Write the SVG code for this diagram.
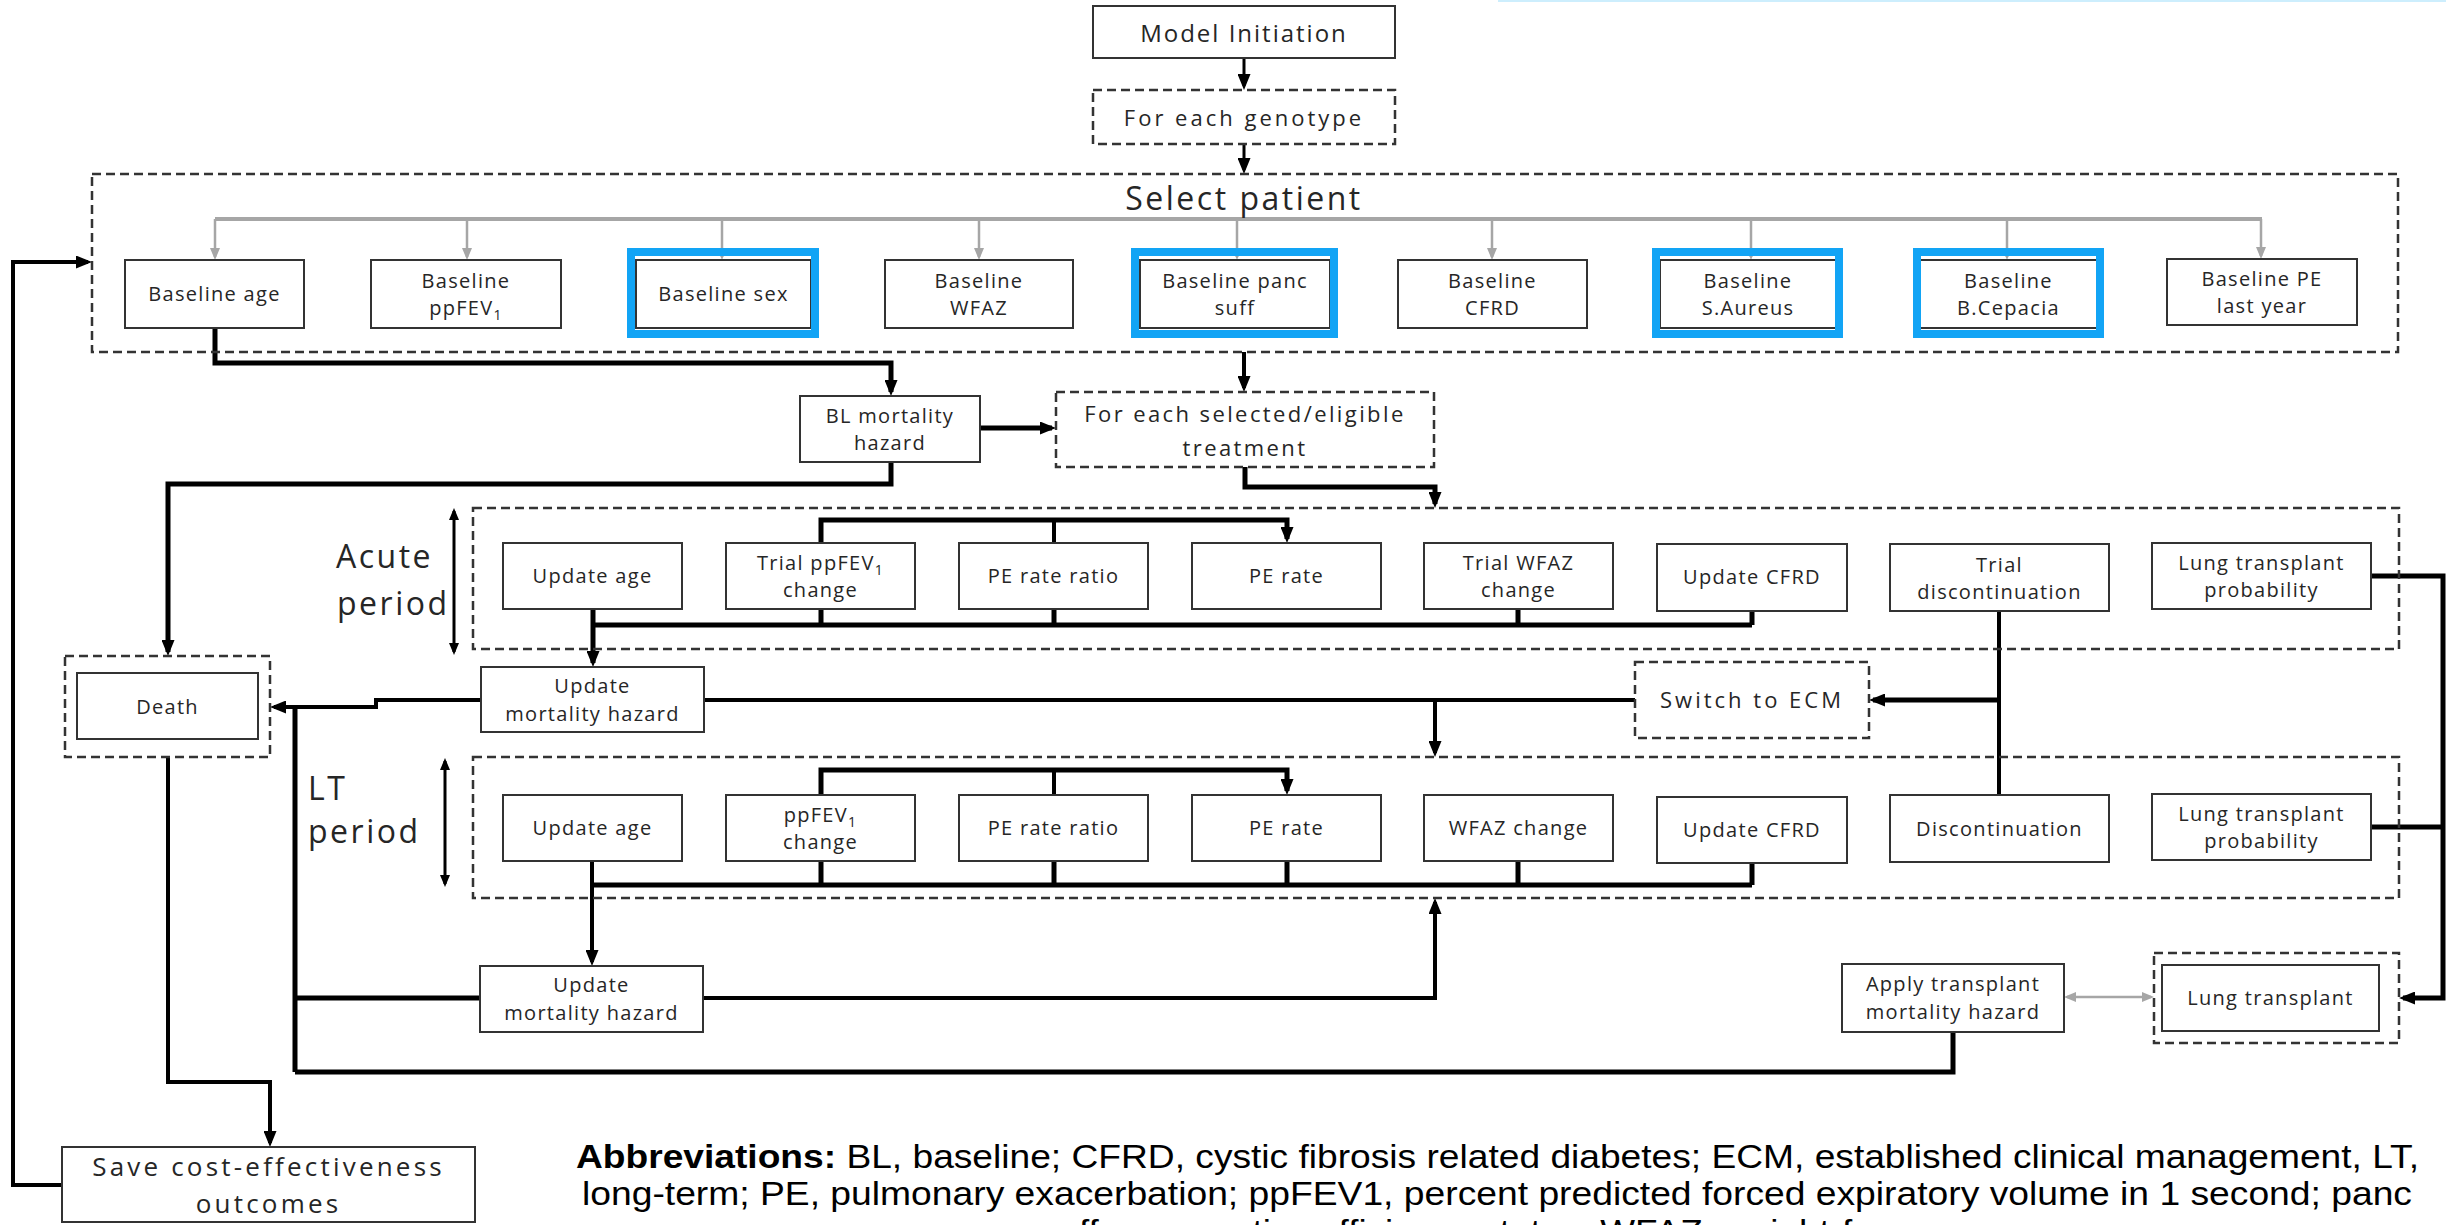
<svg xmlns="http://www.w3.org/2000/svg" width="2446" height="1225" viewBox="0 0 2446 1225">
<defs>
<style>
.bx{fill:#fff;stroke:#333;stroke-width:2}
.db{fill:#fff;stroke:#333;stroke-width:2.5;stroke-dasharray:9 5}
.dbn{fill:none;stroke:#333;stroke-width:2.5;stroke-dasharray:9 5}
.blue{fill:none;stroke:#12a4f5;stroke-width:8}
.t{font-family:"Open Sans","Liberation Sans",sans-serif;font-size:20px;letter-spacing:1.3px;fill:#262626;text-anchor:middle}
.tm{font-family:"Open Sans","Liberation Sans",sans-serif;font-size:22px;letter-spacing:2.5px;fill:#262626;text-anchor:middle}
.tl{font-family:"Open Sans","Liberation Sans",sans-serif;font-size:32px;letter-spacing:2.5px;fill:#262626}
.ab{font-family:"Liberation Sans",Arial,sans-serif;font-size:33px;fill:#000}
.c5{fill:none;stroke:#000;stroke-width:5}
.c4{fill:none;stroke:#000;stroke-width:4}
.c3{fill:none;stroke:#000;stroke-width:3}
.g4{fill:none;stroke:#a6a6a6;stroke-width:4}
.g3{fill:none;stroke:#a6a6a6;stroke-width:2.5}
.sub{font-size:14px}
</style>
<marker id="ah" viewBox="0 0 16 13" markerWidth="16" markerHeight="13" refX="12" refY="6.5" orient="auto" markerUnits="userSpaceOnUse"><path d="M0,0 L16,6.5 L0,13 z" fill="#000"/></marker>
<marker id="as" viewBox="0 0 12 10" markerWidth="12" markerHeight="10" refX="9" refY="5" orient="auto-start-reverse" markerUnits="userSpaceOnUse"><path d="M0,0 L12,5 L0,10 z" fill="#000"/></marker>
<marker id="ag" viewBox="0 0 12 10" markerWidth="12" markerHeight="10" refX="9" refY="5" orient="auto-start-reverse" markerUnits="userSpaceOnUse"><path d="M0,0 L12,5 L0,10 z" fill="#a6a6a6"/></marker>
</defs>
<rect x="1498" y="0" width="948" height="2" fill="#cdeefd"/>

<g id="connectors">
<path class="c3" d="M1244,58 V86" marker-end="url(#ah)"/>
<path class="c3" d="M1244,144 V170" marker-end="url(#ah)"/>
<path class="g4" d="M215,219 H2262"/>
<path class="g3" d="M215,219 V257" marker-end="url(#ag)"/>
<path class="g3" d="M467,219 V257" marker-end="url(#ag)"/>
<path class="g3" d="M722,219 V257" marker-end="url(#ag)"/>
<path class="g3" d="M979,219 V257" marker-end="url(#ag)"/>
<path class="g3" d="M1237,219 V257" marker-end="url(#ag)"/>
<path class="g3" d="M1492,219 V257" marker-end="url(#ag)"/>
<path class="g3" d="M1751,219 V257" marker-end="url(#ag)"/>
<path class="g3" d="M2007,219 V257" marker-end="url(#ag)"/>
<path class="g3" d="M2261,219 V256" marker-end="url(#ag)"/>
<path class="c5" d="M215,328 V363 H891 V392" marker-end="url(#ah)"/>
<path class="c4" d="M1244,352 V388" marker-end="url(#ah)"/>
<path class="c5" d="M980,428 H1052" marker-end="url(#ah)"/>
<path class="c5" d="M891,462 V484 H168 V652" marker-end="url(#ah)"/>
<path class="c5" d="M1245,467 V487 H1435 V504" marker-end="url(#ah)"/>
<path class="c5" d="M821,543 V520 H1287 V539" marker-end="url(#ah)"/>
<path class="c4" d="M1054,543 V520"/>
<path class="c5" d="M593,625 H1752 M821,609 V625 M1054,609 V625 M1518,609 V625 M1752,611 V625"/>
<path class="c5" d="M593,609 V663" marker-end="url(#ah)"/>
<path class="c4" d="M481,700 H376 V707 H274" marker-end="url(#ah)"/>
<path class="c4" d="M704,700 H1635"/>
<path class="c4" d="M1435,700 V753" marker-end="url(#ah)"/>
<path class="c4" d="M1999,611 V795"/>
<path class="c5" d="M1999,700 H1873" marker-end="url(#ah)"/>
<path class="c5" d="M2371,576 H2443 V998 H2403" marker-end="url(#ah)"/>
<path class="c5" d="M2371,827 H2443"/>
<path class="c5" d="M821,795 V770 H1287 V791" marker-end="url(#ah)"/>
<path class="c4" d="M1054,795 V770"/>
<path class="c5" d="M592,885 H1752 M821,861 V885 M1054,861 V885 M1287,861 V885 M1518,861 V885 M1752,863 V885"/>
<path class="c4" d="M592,861 V962" marker-end="url(#ah)"/>
<path class="c5" d="M480,998 H295 M295,707 V1072"/>
<path class="c4" d="M703,998 H1435 V902" marker-end="url(#ah)"/>
<path class="g3" d="M2067,997 H2151" marker-start="url(#ag)" marker-end="url(#ag)"/>
<path class="c5" d="M1953,1032 V1072 H295"/>
<path class="c4" d="M168,757 V1082 H270 V1143" marker-end="url(#ah)"/>
<path class="c4" d="M62,1185 H13 V262 H88" marker-end="url(#ah)"/>
<path class="c3" d="M454,511 V652" marker-start="url(#as)" marker-end="url(#as)"/>
<path class="c3" d="M445,761 V884" marker-start="url(#as)" marker-end="url(#as)"/>
</g>

<g id="model-initiation"><rect class="bx" x="1093" y="6" width="302" height="52"/><text class="t" style="font-size:24px;letter-spacing:2px" x="1244" y="42">Model Initiation</text></g>
<g id="for-each-genotype"><rect class="db" x="1093" y="90" width="302" height="54"/><text class="tm" style="letter-spacing:3px" x="1244" y="126">For each genotype</text></g>
<g id="select-patient"><rect class="dbn" x="92" y="174" width="2306" height="178"/><text class="tl" x="1244" y="210" text-anchor="middle">Select patient</text></g>

<g id="baseline-age"><rect class="bx" x="125" y="260" width="179" height="68"/><text class="t" x="214.5" y="301">Baseline age</text></g>
<g id="baseline-ppfev1"><rect class="bx" x="371" y="260" width="190" height="68"/><text class="t" x="466" y="288">Baseline</text><text class="t" x="466" y="315">ppFEV<tspan class="sub" dy="5">1</tspan></text></g>
<g id="baseline-sex"><rect class="bx" x="636" y="260" width="175" height="68"/><rect class="blue" x="631" y="252" width="184" height="82"/><text class="t" x="723.5" y="301">Baseline sex</text></g>
<g id="baseline-wfaz"><rect class="bx" x="885" y="260" width="188" height="68"/><text class="t" x="979" y="288">Baseline</text><text class="t" x="979" y="315">WFAZ</text></g>
<g id="baseline-panc"><rect class="bx" x="1140" y="260" width="190" height="68"/><rect class="blue" x="1135" y="252" width="199" height="82"/><text class="t" x="1235" y="288">Baseline panc</text><text class="t" x="1235" y="315">suff</text></g>
<g id="baseline-cfrd"><rect class="bx" x="1398" y="260" width="189" height="68"/><text class="t" x="1492.5" y="288">Baseline</text><text class="t" x="1492.5" y="315">CFRD</text></g>
<g id="baseline-saureus"><rect class="bx" x="1660" y="260" width="176" height="68"/><rect class="blue" x="1656" y="252" width="183" height="82"/><text class="t" x="1748" y="288">Baseline</text><text class="t" x="1748" y="315">S.Aureus</text></g>
<g id="baseline-bcepacia"><rect class="bx" x="1920" y="260" width="177" height="68"/><rect class="blue" x="1917" y="252" width="183" height="82"/><text class="t" x="2008.5" y="288">Baseline</text><text class="t" x="2008.5" y="315">B.Cepacia</text></g>
<g id="baseline-pe"><rect class="bx" x="2167" y="259" width="190" height="66"/><text class="t" x="2262" y="286">Baseline PE</text><text class="t" x="2262" y="313">last year</text></g>

<g id="bl-mortality"><rect class="bx" x="800" y="396" width="180" height="66"/><text class="t" x="890" y="423">BL mortality</text><text class="t" x="890" y="450">hazard</text></g>
<g id="for-each-treatment"><rect class="db" x="1056" y="392" width="378" height="75"/><text class="tm" style="letter-spacing:2.4px" x="1245" y="422">For each selected/eligible</text><text class="tm" style="letter-spacing:2.4px" x="1245" y="456">treatment</text></g>

<g id="acute-period"><rect class="dbn" x="473" y="508" width="1926" height="141"/><text class="tl" x="336" y="568">Acute</text><text class="tl" x="337" y="615">period</text></g>
<g id="a-update-age"><rect class="bx" x="503" y="543" width="179" height="66"/><text class="t" x="592.5" y="583">Update age</text></g>
<g id="a-trial-ppfev1"><rect class="bx" x="726" y="543" width="189" height="66"/><text class="t" x="820.5" y="570">Trial ppFEV<tspan class="sub" dy="5">1</tspan></text><text class="t" x="820.5" y="597">change</text></g>
<g id="a-pe-rate-ratio"><rect class="bx" x="959" y="543" width="189" height="66"/><text class="t" x="1053.5" y="583">PE rate ratio</text></g>
<g id="a-pe-rate"><rect class="bx" x="1192" y="543" width="189" height="66"/><text class="t" x="1286.5" y="583">PE rate</text></g>
<g id="a-trial-wfaz"><rect class="bx" x="1424" y="543" width="189" height="66"/><text class="t" x="1518.5" y="570">Trial WFAZ</text><text class="t" x="1518.5" y="597">change</text></g>
<g id="a-update-cfrd"><rect class="bx" x="1657" y="544" width="190" height="67"/><text class="t" x="1752" y="584">Update CFRD</text></g>
<g id="a-trial-disc"><rect class="bx" x="1890" y="544" width="219" height="67"/><text class="t" x="1999.5" y="572">Trial</text><text class="t" x="1999.5" y="599">discontinuation</text></g>
<g id="a-lung-prob"><rect class="bx" x="2152" y="543" width="219" height="66"/><text class="t" x="2261.5" y="570">Lung transplant</text><text class="t" x="2261.5" y="597">probability</text></g>

<g id="death"><rect class="dbn" x="65" y="656" width="205" height="101"/><rect class="bx" x="77" y="673" width="181" height="66"/><text class="t" x="167.5" y="714">Death</text></g>
<g id="a-update-mortality"><rect class="bx" x="481" y="667" width="223" height="65"/><text class="t" x="592.5" y="693">Update</text><text class="t" x="592.5" y="721">mortality hazard</text></g>
<g id="switch-ecm"><rect class="db" x="1635" y="662" width="234" height="76"/><text class="tm" style="letter-spacing:3px" x="1752" y="708">Switch to ECM</text></g>

<g id="lt-period"><rect class="dbn" x="473" y="757" width="1926" height="141"/><text class="tl" x="308" y="800">LT</text><text class="tl" x="308" y="843">period</text></g>
<g id="l-update-age"><rect class="bx" x="503" y="795" width="179" height="66"/><text class="t" x="592.5" y="835">Update age</text></g>
<g id="l-ppfev1"><rect class="bx" x="726" y="795" width="189" height="66"/><text class="t" x="820.5" y="822">ppFEV<tspan class="sub" dy="5">1</tspan></text><text class="t" x="820.5" y="849">change</text></g>
<g id="l-pe-rate-ratio"><rect class="bx" x="959" y="795" width="189" height="66"/><text class="t" x="1053.5" y="835">PE rate ratio</text></g>
<g id="l-pe-rate"><rect class="bx" x="1192" y="795" width="189" height="66"/><text class="t" x="1286.5" y="835">PE rate</text></g>
<g id="l-wfaz"><rect class="bx" x="1424" y="795" width="189" height="66"/><text class="t" x="1518.5" y="835">WFAZ change</text></g>
<g id="l-update-cfrd"><rect class="bx" x="1657" y="797" width="190" height="66"/><text class="t" x="1752" y="837">Update CFRD</text></g>
<g id="l-disc"><rect class="bx" x="1890" y="795" width="219" height="67"/><text class="t" x="1999.5" y="836">Discontinuation</text></g>
<g id="l-lung-prob"><rect class="bx" x="2152" y="794" width="219" height="66"/><text class="t" x="2261.5" y="821">Lung transplant</text><text class="t" x="2261.5" y="848">probability</text></g>

<g id="l-update-mortality"><rect class="bx" x="480" y="966" width="223" height="66"/><text class="t" x="591.5" y="992">Update</text><text class="t" x="591.5" y="1020">mortality hazard</text></g>
<g id="apply-transplant"><rect class="bx" x="1842" y="964" width="222" height="68"/><text class="t" x="1953" y="991">Apply transplant</text><text class="t" x="1953" y="1019">mortality hazard</text></g>
<g id="lung-transplant"><rect class="dbn" x="2154" y="953" width="245" height="90"/><rect class="bx" x="2162" y="965" width="217" height="66"/><text class="t" x="2270.5" y="1005">Lung transplant</text></g>

<g id="save-outcomes"><rect class="bx" x="62" y="1147" width="413" height="75"/><text class="t" style="font-size:26px;letter-spacing:3.2px" x="268.5" y="1176">Save cost-effectiveness</text><text class="t" style="font-size:26px;letter-spacing:3.2px" x="268.5" y="1213">outcomes</text></g>

<g id="abbreviations">
<text class="ab" x="576" y="1168" textLength="1843" lengthAdjust="spacingAndGlyphs"><tspan font-weight="bold">Abbreviations:</tspan> BL, baseline; CFRD, cystic fibrosis related diabetes; ECM, established clinical management, LT,</text>
<text class="ab" x="582" y="1205" textLength="1830" lengthAdjust="spacingAndGlyphs">long-term; PE, pulmonary exacerbation; ppFEV1, percent predicted forced expiratory volume in 1 second; panc</text>
<text class="ab" x="1040" y="1243" textLength="1050" lengthAdjust="spacingAndGlyphs">suff, pancreatic sufficiency status; WFAZ, weight-for-age z-score</text>
</g>
</svg>
